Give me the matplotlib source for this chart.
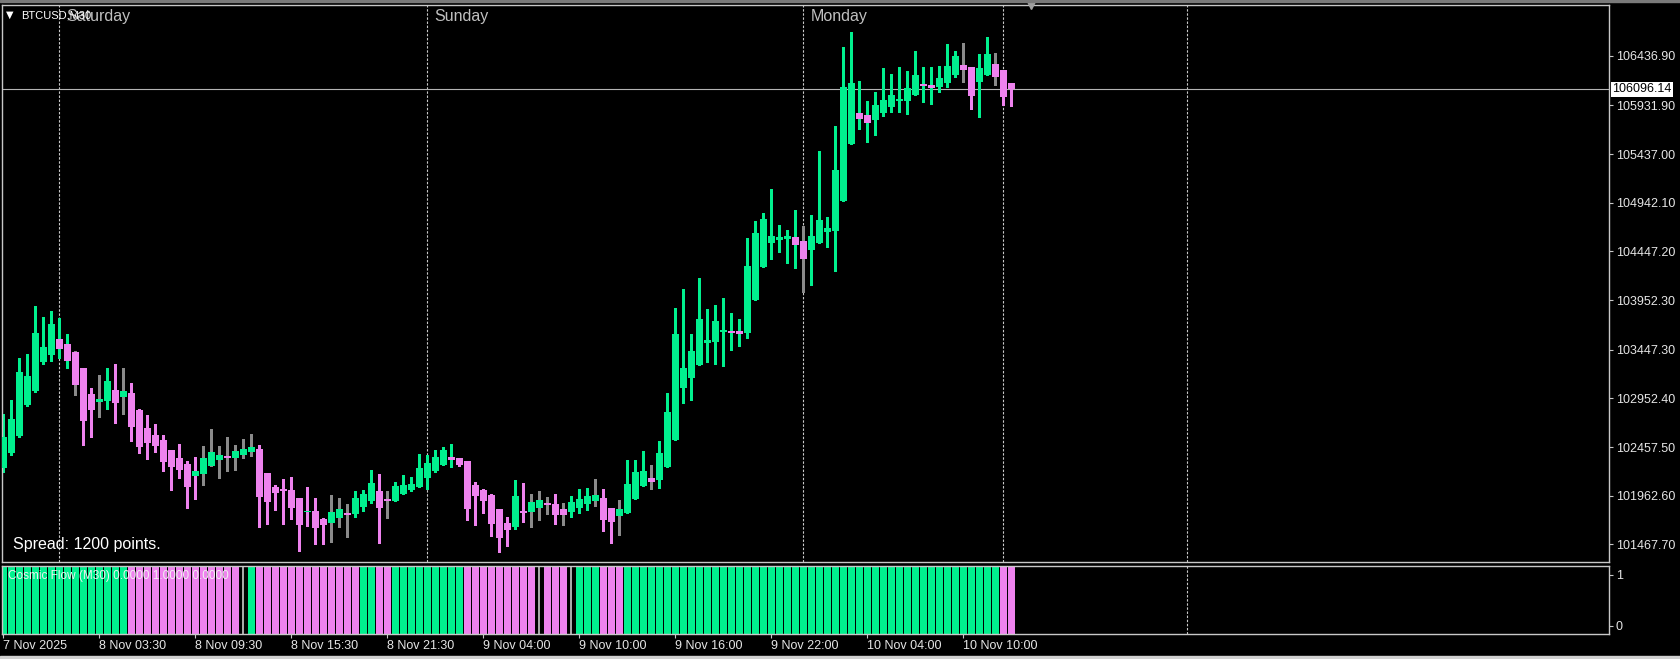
import numpy as np
import matplotlib
matplotlib.use("Agg")
import matplotlib.pyplot as plt
from matplotlib.patches import Rectangle

plt.rcParams['font.family'] = ['Liberation Sans', 'DejaVu Sans']

# BTCUSD M30 candles
opens = [102247, 102399, 102572, 102885, 103030, 103325, 103396, 103556, 103505, 103424,
         103261, 102996, 102918, 102928, 103037, 102969, 103004, 102834, 102651, 102579,
         102529, 102427, 102346, 102285, 102166, 102186, 102267, 102328, 102359, 102349,
         102376, 102407, 102437, 102193, 102051, 102033, 102020, 101939, 101796, 101807,
         101725, 101688, 101735, 101786, 101779, 101850, 101911, 102010, 101929, 101911,
         101983, 102023, 102054, 102145, 102216, 102277, 102356, 102346, 102315, 102071,
         102020, 101969, 101827, 101685, 101647, 101810, 101799, 101840, 101881, 101878,
         101827, 101799, 101840, 101881, 101911, 101939, 101837, 101759, 101789, 101932,
         102064, 102142, 102125, 102257, 102532, 103061, 103162, 103294, 103518, 103528,
         103630, 103637, 103637, 103620, 103952, 104288, 104532, 104563, 104573, 104593,
         104552, 104461, 104532, 104644, 104654, 104959, 105539, 105854, 105834, 105783,
         105854, 105915, 105976, 105976, 106037, 106149, 106139, 106119, 106159, 106241,
         106342, 106322, 106170, 106241, 106353, 106291, 106159]
highs = [102790, 102935, 103360, 103403, 103891, 103780, 103841, 103766, 103607, 103430,
         103265, 103057, 103190, 103261, 103302, 103261, 103108, 102840, 102783, 102691,
         102579, 102432, 102488, 102312, 102356, 102468, 102641, 102468, 102559, 102478,
         102539, 102590, 102478, 102198, 102071, 102132, 102152, 101944, 102051, 101939,
         101735, 101969, 101939, 101878, 102010, 102020, 102224, 102183, 102010, 102102,
         102173, 102152, 102386, 102376, 102427, 102457, 102488, 102350, 102320, 102102,
         102030, 101975, 101832, 101746, 102122, 102091, 101979, 102010, 101949, 101979,
         101888, 101959, 102030, 102040, 102132, 102030, 101842, 101918, 102325, 102325,
         102417, 102274, 102518, 103007, 103871, 104064, 103607, 104176, 103861, 103902,
         103973, 103820, 103759, 104583, 104756, 104837, 105081, 104715, 104664, 104868,
         104705, 104817, 105468, 104797, 105722, 106525, 106678, 106180, 105976, 106068,
         106312, 106251, 106322, 106281, 106485, 106322, 106322, 106332, 106556, 106485,
         106566, 106327, 106454, 106627, 106464, 106296, 106164]
lows = [102206, 102376, 102559, 102874, 103022, 103305, 103335, 103366, 103261, 102989,
        102481, 102562, 102760, 102847, 102705, 102793, 102522, 102399, 102338, 102407,
        102216, 102020, 102142, 101840, 101929, 102071, 102264, 102145, 102216, 102227,
        102349, 102366, 101647, 101677, 101820, 101677, 101728, 101403, 101657, 101474,
        101474, 101494, 101647, 101545, 101749, 101810, 101885, 101484, 101738, 101908,
        101980, 102013, 102051, 102033, 102206, 102274, 102257, 102267, 101718, 101667,
        101789, 101555, 101393, 101454, 101627, 101698, 101647, 101718, 101779, 101677,
        101667, 101749, 101789, 101820, 101860, 101606, 101484, 101566, 101786, 101929,
        102061, 102033, 102044, 102254, 102529, 102908, 102939, 103291, 103325, 103305,
        103284, 103447, 103488, 103569, 103952, 104288, 104369, 104441, 104329, 104278,
        104034, 104105, 104532, 104491, 104247, 104959, 105539, 105692, 105559, 105630,
        105827, 105864, 105864, 105844, 106037, 105966, 105946, 106068, 106119, 106220,
        106170, 105895, 105814, 106241, 106139, 105936, 105925]
closes = [102562, 102742, 103220, 103180, 103617, 103474, 103708, 103457, 103335, 103091,
          102725, 102834, 102946, 103129, 102908, 103027, 102664, 102461, 102501, 102471,
          102308, 102257, 102227, 102054, 102213, 102346, 102407, 102376, 102346, 102417,
          102437, 102457, 101952, 101901, 101993, 102013, 101840, 101667, 101807, 101637,
          101667, 101796, 101827, 101766, 101939, 101979, 102091, 101840, 101911, 102061,
          102071, 102081, 102244, 102295, 102356, 102427, 102328, 102277, 101830, 101962,
          101911, 101677, 101535, 101616, 101959, 101789, 101898, 101918, 101871, 101769,
          101769, 101898, 101929, 101959, 101965, 101718, 101698, 101827, 102081, 102203,
          102213, 102105, 102396, 102813, 103607, 103261, 103434, 103759, 103546, 103739,
          103647, 103620, 103610, 104298, 104634, 104776, 104603, 104593, 104603, 104512,
          104369, 104603, 104766, 104685, 105275, 106119, 106159, 105793, 105752, 105936,
          105986, 106037, 105997, 106108, 106241, 106129, 106108, 106210, 106332, 106434,
          106291, 106027, 106312, 106454, 106220, 106017, 106096]
# wick colour per candle: g = green, p = pink, n = grey
wick_codes = ("gggggggggn" "ppngpnpppp" "pppppnnnnn" "nnpppppppp" "pnnngggpng"
              "gggggggppp" "ppppgpnnnp" "ngggnppngg" "gngggggggg" "gggggggggg"
              "nggggggggg" "gggggggggg" "npggnpp")

# Cosmic Flow state per candle: 1 = up, -1 = down, 0 = none
flow = [1, 1, 1, 1, 1, 1, 1, 1, 1, 1, 1, 1, 1, 1, 1, 1,
        -1, -1, -1, -1, -1, -1, -1, -1, -1, -1, -1, -1, -1, -1,
        0, 1,
        -1, -1, -1, -1, -1, -1, -1, -1, -1, -1, -1, -1, -1,
        1, 1, -1, -1,
        1, 1, 1, 1, 1, 1, 1, 1, 1,
        -1, -1, -1, -1, -1, -1, -1, -1, -1,
        0, -1, -1, -1, 0,
        1, 1, 1, -1, -1, -1,
        1, 1, 1, 1, 1, 1, 1, 1, 1, 1, 1, 1, 1, 1, 1, 1, 1, 1, 1, 1, 1, 1, 1, 1,
        1, 1, 1, 1, 1, 1, 1, 1, 1, 1, 1, 1, 1, 1, 1, 1, 1, 1, 1, 1, 1, 1, 1,
        -1, -1]

price_ticks = [106436.90, 105931.90, 105437.00, 104942.10, 104447.20, 103952.30,
               103447.30, 102952.40, 102457.50, 101962.60, 101467.70]
bid = 106096.14
time_pos = [0, 12, 24, 36, 48, 60, 72, 84, 96, 108, 120]
time_labels = ["7 Nov 2025", "8 Nov 03:30", "8 Nov 09:30", "8 Nov 15:30", "8 Nov 21:30",
               "9 Nov 04:00", "9 Nov 10:00", "9 Nov 16:00", "9 Nov 22:00",
               "10 Nov 04:00", "10 Nov 10:00"]
sep_pos = [7, 53, 100, 125, 148]
day_names = ["Saturday", "Sunday", "Monday"]

GREEN = "#00f08e"
PINK = "#ee82ee"
GREY = "#8a8a8a"
FG = "#e6e6e6"
BORDER = "#c8c8c8"

W, H = 1680, 659
fig = plt.figure(figsize=(W / 100, H / 100), dpi=100, facecolor="black")
ax = fig.add_axes([2 / W, 1 - 562 / H, 1607 / W, 557 / H])
axi = fig.add_axes([2 / W, 1 - 634 / H, 1607 / W, 68 / H])

x = np.arange(len(opens))
o = np.array(opens, float)
c = np.array(closes, float)
up = c >= o
body_col = [GREEN if u else PINK for u in up]
wmap = {"g": GREEN, "p": PINK, "n": GREY}
wick_col = [wmap[ch] for ch in wick_codes]

for a in (ax, axi):
    a.set_facecolor("black")
    for s in a.spines.values():
        s.set_color(BORDER)
        s.set_linewidth(1)
    a.set_xlim(-0.16, 200.7)

# period separators
for a in (ax, axi):
    a.vlines(sep_pos, 0, 1, transform=a.get_xaxis_transform(), colors=BORDER,
             linewidth=0.8, linestyles=(0, (2.2, 1.5)), zorder=0.5)

# candles
ax.vlines(x, lows, highs, colors=wick_col, linewidth=1, zorder=2, antialiased=False)
bottom = np.minimum(o, c)
height = np.maximum(np.abs(c - o), 15)
ax.bar(x, height, bottom=bottom, width=0.82, color=body_col, linewidth=0,
       zorder=3, antialiased=False)

ax.set_ylim(101288, 106953)
ax.axhline(bid, color="#b4b4b4", linewidth=0.8, zorder=1)
ax.set_xticks([])
ax.yaxis.tick_right()
ax.set_yticks(price_ticks)
ax.set_yticklabels(["%.2f" % v for v in price_ticks])
ax.tick_params(axis="y", direction="out", length=3, width=0.8, color=BORDER,
               labelcolor=FG, labelsize=9, pad=2)
ax.annotate("%.2f" % bid, xy=(1, bid), xycoords=("axes fraction", "data"),
            xytext=(2.2, 0), textcoords="offset points", ha="left", va="center",
            fontsize=9, color="black",
            bbox=dict(boxstyle="square,pad=0.12", fc="white", ec="none"))

# day names at the top of each separator
for p, name in zip(sep_pos[:3], day_names):
    ax.annotate(name, xy=(p, 1), xycoords=("data", "axes fraction"),
                xytext=(5, -8.5), textcoords="offset points", ha="left", va="center",
                fontsize=11.5, color="#c0c0c0")

ax.text(11 / 1607, 1 - 539 / 557, "Spread: 1200 points.", transform=ax.transAxes,
        fontsize=11.5, color="white", ha="left", va="center")
fig.text(21 / W, 1 - 15 / H, "BTCUSD,M30", fontsize=8, color="white",
         ha="left", va="center")
fig.text(6 / W, 1 - 15 / H, "▼", fontsize=7, color="white", ha="left",
         va="center", family="DejaVu Sans")
# chart shift marker
ax.plot([128.5], [1], marker="v", markersize=6, color="#a0a0a0",
        transform=ax.get_xaxis_transform(), clip_on=False, zorder=5)

# indicator panel
lo, hi = -0.157, 1.176
axi.set_ylim(lo, hi)
for i, f in enumerate(flow):
    if f == 0:
        axi.bar(i, hi - lo, bottom=lo, width=0.28, color="#a8a8a8", linewidth=0,
                zorder=2, antialiased=False)
    else:
        axi.bar(i, hi - lo, bottom=lo, width=0.87, color=GREEN if f > 0 else PINK,
                linewidth=0, zorder=2, antialiased=False)
axi.text(6 / 1607, 1 - 10 / 68, "Cosmic Flow (M30) 0.0000 1.0000 0.0000",
         transform=axi.transAxes, fontsize=8.5, color="#f0f0f0", ha="left",
         va="center", zorder=5)
axi.yaxis.tick_right()
axi.set_yticks([1, 0])
axi.set_yticklabels(["1", "0"])
axi.tick_params(axis="y", direction="out", length=3, width=0.8, color=BORDER,
                labelcolor=FG, labelsize=9, pad=2)
axi.set_xticks(time_pos)
axi.set_xticklabels(time_labels)
for lbl in axi.get_xticklabels():
    lbl.set_ha("left")
axi.tick_params(axis="x", direction="out", length=3, width=0.8, color=BORDER,
                labelcolor=FG, labelsize=9, pad=1.5)

# thin window frame lines at the very top and bottom
fig.patches.append(Rectangle((0, 1 - 1.5 / H), 1, 1.5 / H, transform=fig.transFigure,
                             color="#7a7a7a", zorder=10))
fig.patches.append(Rectangle((0, 0), 1, 3 / H, transform=fig.transFigure,
                             color="#d0d0d0", zorder=10))

fig.savefig("out.png", dpi=100, facecolor="black")
